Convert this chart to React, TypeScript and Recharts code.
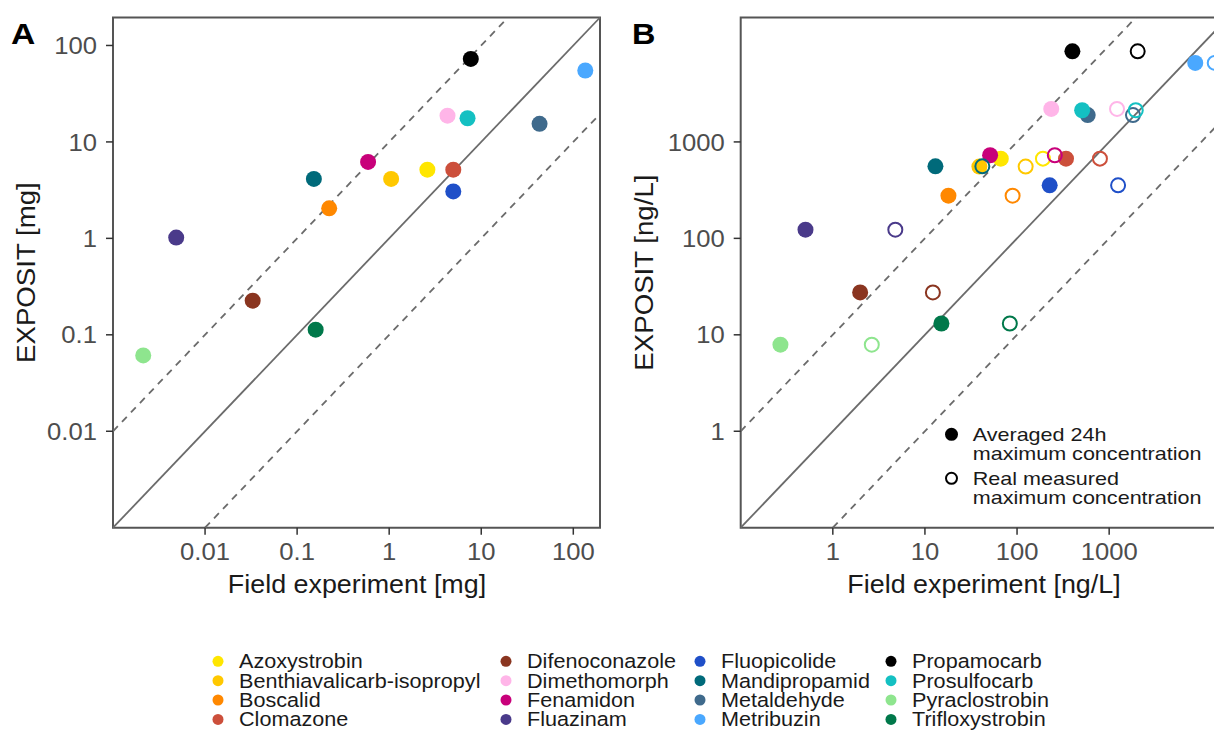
import React from 'react';
import {
  ScatterChart,
  Scatter,
  XAxis,
  YAxis,
  ReferenceLine,
  ReferenceArea,
} from 'recharts';

// Compounds in legend order (also drawing order)
const compounds = [
  'Azoxystrobin',
  'Benthiavalicarb-isopropyl',
  'Boscalid',
  'Clomazone',
  'Difenoconazole',
  'Dimethomorph',
  'Fenamidon',
  'Fluazinam',
  'Fluopicolide',
  'Mandipropamid',
  'Metaldehyde',
  'Metribuzin',
  'Propamocarb',
  'Prosulfocarb',
  'Pyraclostrobin',
  'Trifloxystrobin',
];

const colors = [
  '#ffe600', '#ffc800', '#ff8800', '#cc4f3b',
  '#8a3520', '#ffb5e8', '#c8007a', '#4a3a8a',
  '#1f4fc8', '#006a7a', '#3f6a8c', '#4aa8ff',
  '#000000', '#14c0c2', '#8ee58e', '#00784a',
];

// Panel A: mass [mg]
const fieldA = [2.6, 1.05, 0.223, 4.97, 0.0329, 4.3, 0.59, 0.00486, 4.97, 0.152, 43, 135, 7.7, 7.1, 0.00213, 0.159];
const expositA = [5.16, 4.13, 2.05, 5.16, 0.226, 18.7, 6.2, 1.02, 3.07, 4.13, 15.4, 55, 72.6, 17.6, 0.0611, 0.113];

// Panel B: concentration [ng/L]
const expositB = [671, 555, 277, 671, 27.5, 2200, 727, 123, 355, 558, 1900, 6600, 8700, 2130, 7.9, 13.1];
const field24hB = [66.6, 39, 18, 340, 1.98, 235, 51, 0.505, 226, 13, 585, 8600, 399, 509, 0.27, 15.1];
const fieldRealB = [191, 124, 89.5, 794, 12.2, 1217, 257, 4.77, 1250, 42, 1813, 14000, 2040, 1945, 2.65, 83.5];

const ticksA = [0.01, 0.1, 1, 10, 100];
const ticksB = [1, 10, 100, 1000];
const domainA: [number, number] = [0.001, 195];
const domainB: [number, number] = [0.1, 19500];

const FONT = '"Liberation Sans", Arial, sans-serif';
const LINE = '#6b6b6b';
const INK = '#1a1a1a';

const dataA = compounds.map((name, i) => ({ name, color: colors[i], x: fieldA[i], y: expositA[i] }));
const dataB24 = compounds.map((name, i) => ({ name, color: colors[i], x: field24hB[i], y: expositB[i] }));
const dataBReal = compounds.map((name, i) => ({ name, color: colors[i], x: fieldRealB[i], y: expositB[i] }));

const FilledDot = (props: any) => {
  const c = props.payload?.color ?? props.color;
  return <circle cx={props.cx} cy={props.cy} r={8} fill={c} />;
};

const OpenDot = (props: any) => {
  const c = props.payload?.color ?? props.color;
  return <circle cx={props.cx} cy={props.cy} r={7} fill="none" stroke={c} strokeWidth={2} />;
};

// text stretched horizontally (the source figure's type is a bit wide)
const SText: React.FC<{
  x: number;
  y: number;
  size: number;
  sx?: number;
  rot?: number;
  anchor?: 'start' | 'middle' | 'end';
  weight?: string;
  fill?: string;
  dy?: string;
  children?: React.ReactNode;
}> = ({ x, y, size, sx = 1, rot = 0, anchor = 'start', weight = 'normal', fill = INK, dy, children }) => (
  <text
    transform={`translate(${x},${y}) rotate(${rot}) scale(${sx},1)`}
    fontSize={size}
    fontWeight={weight}
    fontFamily={FONT}
    textAnchor={anchor}
    fill={fill}
    dy={dy}
  >
    {children}
  </text>
);

const XTick = (props: any) => (
  <SText x={props.x} y={props.y} size={24.2} sx={1.06} anchor="middle" fill="#4d4d4d" dy="0.71em">
    {String(props.payload.value)}
  </SText>
);

const YTick = (props: any) => (
  <SText x={props.x} y={props.y} size={24.2} sx={1.06} anchor="end" fill="#4d4d4d" dy="0.355em">
    {String(props.payload.value)}
  </SText>
);

const Panel: React.FC<{
  domain: [number, number];
  ticks: number[];
  marginLeft: number;
  marginRight: number;
  children?: React.ReactNode;
}> = ({ domain, ticks, marginLeft, marginRight, children }) => {
  const [lo, hi] = domain;
  return (
    <ScatterChart
      width={620}
      height={620}
      margin={{ top: 17.5, right: marginRight, bottom: 52.3, left: marginLeft }}
    >
      <XAxis
        dataKey="x"
        type="number"
        scale="log"
        domain={domain}
        allowDataOverflow
        ticks={ticks}
        interval={0}
        height={40}
        axisLine={false}
        tickSize={7}
        tickMargin={8}
        tickLine={{ stroke: '#333', strokeWidth: 1.5 }}
        tick={<XTick />}
      />
      <YAxis
        dataKey="y"
        type="number"
        scale="log"
        domain={domain}
        allowDataOverflow
        ticks={ticks}
        interval={0}
        width={80}
        axisLine={false}
        tickSize={7}
        tickMargin={9}
        tickLine={{ stroke: '#333', strokeWidth: 1.5 }}
        tick={<YTick />}
      />
      <ReferenceLine
        segment={[{ x: lo, y: lo }, { x: hi, y: hi }]}
        stroke={LINE}
        strokeWidth={1.8}
        ifOverflow="visible"
      />
      <ReferenceLine
        segment={[{ x: lo, y: lo * 10 }, { x: hi / 10, y: hi }]}
        stroke={LINE}
        strokeWidth={1.8}
        strokeDasharray="7 6"
        ifOverflow="visible"
      />
      <ReferenceLine
        segment={[{ x: lo * 10, y: lo }, { x: hi, y: hi / 10 }]}
        stroke={LINE}
        strokeWidth={1.8}
        strokeDasharray="7 6"
        ifOverflow="visible"
      />
      <ReferenceArea
        x1={lo}
        x2={hi}
        y1={lo}
        y2={hi}
        fill="none"
        stroke="#555"
        strokeWidth={2}
        ifOverflow="visible"
      />
      {children}
    </ScatterChart>
  );
};

const legendCols = [
  { dot: 218, text: 239 },
  { dot: 506, text: 527 },
  { dot: 700, text: 721 },
  { dot: 891, text: 912 },
];
const legendRows = [661.3, 680.7, 700, 719.4];

export default function App() {
  return (
    <div
      style={{
        position: 'absolute',
        left: 0,
        top: 0,
        width: 1214,
        height: 731,
        overflow: 'hidden',
        background: '#fff',
        fontFamily: FONT,
      }}
    >
      <div style={{ position: 'absolute', left: 0, top: 0 }}>
        <Panel domain={domainA} ticks={ticksA} marginLeft={33} marginRight={20}>
          <Scatter data={dataA} shape={FilledDot} isAnimationActive={false} />
        </Panel>
      </div>
      <div style={{ position: 'absolute', left: 620, top: 0 }}>
        <Panel domain={domainB} ticks={ticksB} marginLeft={40.7} marginRight={12}>
          <Scatter data={dataB24} shape={FilledDot} isAnimationActive={false} />
          <Scatter data={dataBReal} shape={OpenDot} isAnimationActive={false} />
        </Panel>
      </div>
      <svg
        width={1214}
        height={731}
        style={{ position: 'absolute', left: 0, top: 0, pointerEvents: 'none' }}
      >
        <SText x={11} y={44} size={30} sx={1.12} weight="bold" fill="#000">A</SText>
        <SText x={632} y={44} size={30} sx={1.08} weight="bold" fill="#000">B</SText>

        <SText x={357} y={593} size={25.6} sx={1.05} anchor="middle">Field experiment [mg]</SText>
        <SText x={984} y={593} size={25.6} sx={1.05} anchor="middle">Field experiment [ng/L]</SText>
        <SText x={35} y={272.6} size={25.6} sx={1.08} rot={-90} anchor="middle">EXPOSIT [mg]</SText>
        <SText x={653} y={272.6} size={25.6} sx={1.08} rot={-90} anchor="middle">EXPOSIT [ng/L]</SText>

        {/* inner legend, panel B */}
        <circle cx={951.5} cy={434.3} r={6.5} fill="#000" />
        <SText x={972.7} y={440.5} size={18.6} sx={1.16}>Averaged 24h</SText>
        <SText x={972.7} y={459.5} size={18.6} sx={1.16}>maximum concentration</SText>
        <circle cx={951.5} cy={478.3} r={5.5} fill="none" stroke="#000" strokeWidth={2} />
        <SText x={972.7} y={484.5} size={18.6} sx={1.16}>Real measured</SText>
        <SText x={972.7} y={503.5} size={18.6} sx={1.16}>maximum concentration</SText>

        {/* compound legend */}
        {compounds.map((name, i) => {
          const col = legendCols[Math.floor(i / 4)];
          const y = legendRows[i % 4];
          return (
            <g key={name}>
              <circle cx={col.dot} cy={y} r={5.5} fill={colors[i]} />
              <SText x={col.text} y={y + 7} size={19.3} sx={1.12}>
                {name}
              </SText>
            </g>
          );
        })}
      </svg>
    </div>
  );
}
